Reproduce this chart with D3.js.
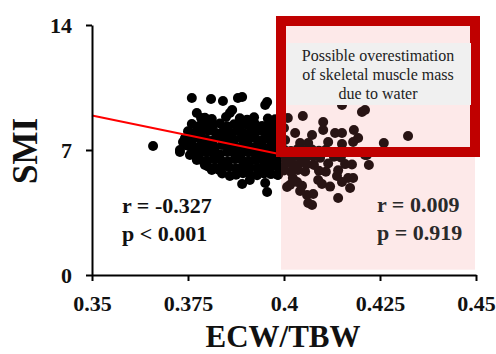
<!DOCTYPE html>
<html>
<head>
<meta charset="utf-8">
<script src="https://cdn.jsdelivr.net/npm/d3@7"></script>
<style>
  body { margin: 0; background: #fff; }
  svg text { font-family: "Liberation Serif", "Times New Roman", serif; }
</style>
</head>
<body>
<div id="chart"></div>
<script>
// axis ticks
const xTicks = [0.35, 0.375, 0.4, 0.425, 0.45];
const xTickLabels = ['0.35', '0.375', '0.4', '0.425', '0.45'];
const yTicks = [0, 7, 14];

// patients: [ECW/TBW, SMI]
const patients = [
  [0.3659, 7.22], [0.3729, 6.89], [0.3729, 7.00], [0.3737, 7.45],
  [0.3760, 9.91], [0.3810, 9.86], [0.3841, 9.74], [0.3880, 9.91], [0.3891, 9.97],
  [0.3773, 9.07], [0.3784, 8.79], [0.3859, 9.07], [0.3865, 9.24], [0.3956, 9.69], [0.3951, 9.52],
  // row ~8.8
  [0.3794, 8.80], [0.3812, 8.74], [0.3849, 8.85], [0.3885, 8.78], [0.3904, 8.70], [0.3922, 8.83], [0.3958, 8.76], [0.3977, 8.72],
  // row ~8.4
  [0.3760, 8.45], [0.3779, 8.35], [0.3797, 8.42], [0.3815, 8.38], [0.3833, 8.48], [0.3852, 8.33], [0.3870, 8.44],
  [0.3888, 8.36], [0.3906, 8.41], [0.3924, 8.47], [0.3943, 8.34], [0.3961, 8.43], [0.3979, 8.39],
  // row ~8.0
  [0.3750, 8.05], [0.3768, 7.96], [0.3786, 8.02], [0.3805, 8.08], [0.3823, 7.95], [0.3841, 8.03], [0.3859, 7.99],
  [0.3878, 8.06], [0.3896, 7.94], [0.3914, 8.01], [0.3932, 8.07], [0.3951, 7.97], [0.3969, 8.04], [0.3987, 7.98],
  // row ~7.6
  [0.3742, 7.65], [0.3760, 7.58], [0.3779, 7.66], [0.3797, 7.60], [0.3815, 7.55], [0.3833, 7.68], [0.3852, 7.61],
  [0.3870, 7.57], [0.3888, 7.64], [0.3906, 7.59], [0.3924, 7.67], [0.3943, 7.56], [0.3961, 7.63], [0.3979, 7.60],
  // row ~7.2
  [0.3747, 7.25], [0.3766, 7.18], [0.3784, 7.27], [0.3802, 7.20], [0.3820, 7.15], [0.3839, 7.28], [0.3857, 7.22],
  [0.3875, 7.16], [0.3893, 7.26], [0.3911, 7.19], [0.3930, 7.24], [0.3948, 7.14], [0.3966, 7.23], [0.3984, 7.21],
  // row ~6.8
  [0.3760, 6.86], [0.3779, 6.79], [0.3797, 6.88], [0.3815, 6.81], [0.3833, 6.76], [0.3852, 6.89], [0.3870, 6.83],
  [0.3888, 6.78], [0.3906, 6.87], [0.3924, 6.80], [0.3943, 6.85], [0.3961, 6.77], [0.3979, 6.84],
  // row ~6.4
  [0.3781, 6.47], [0.3799, 6.40], [0.3818, 6.48], [0.3836, 6.42], [0.3854, 6.37], [0.3872, 6.49], [0.3891, 6.43],
  [0.3909, 6.38], [0.3927, 6.46], [0.3945, 6.41], [0.3964, 6.45], [0.3982, 6.39],
  // row ~6.0
  [0.3802, 6.08], [0.3820, 6.01], [0.3839, 6.09], [0.3857, 6.03], [0.3875, 5.98], [0.3893, 6.10], [0.3911, 6.04],
  [0.3930, 5.99], [0.3948, 6.07], [0.3966, 6.02], [0.3984, 6.06],
  // row ~5.7
  [0.3839, 5.68], [0.3875, 5.62], [0.3893, 5.70], [0.3911, 5.64], [0.3930, 5.59], [0.3948, 5.69], [0.3966, 5.65], [0.3984, 5.61],
  // lower left edge
  [0.3755, 6.72], [0.3773, 6.44], [0.3794, 6.16], [0.3812, 5.88], [0.3831, 5.88],
  [0.3891, 5.10], [0.3951, 5.15], [0.3956, 4.65], [0.3984, 5.60], [0.3911, 5.32], [0.3859, 5.54],
  // ECW/TBW >= 0.4
  [0.4010, 8.79], [0.4049, 8.90], [0.4102, 8.57], [0.4102, 8.12], [0.4133, 7.95], [0.4151, 7.95], [0.4182, 8.12],
  [0.4193, 7.67], [0.4203, 9.13], [0.4211, 9.24], [0.4029, 7.95], [0.4073, 7.84], [0.4115, 7.45], [0.4151, 7.34],
  [0.4180, 7.45], [0.4042, 7.39], [0.4063, 7.39], [0.4151, 9.52], [0.4260, 7.39], [0.4323, 7.78], [0.4216, 6.72],
  [0.4221, 6.16], [0.4000, 8.23], [0.4003, 7.56],
  [0.4000, 7.02], [0.4018, 6.95], [0.4036, 7.05], [0.4055, 6.98], [0.4073, 7.03], [0.4091, 6.96], [0.4109, 7.01],
  [0.4003, 6.63], [0.4021, 6.57], [0.4039, 6.66], [0.4057, 6.59], [0.4076, 6.64], [0.4094, 6.56], [0.4130, 6.62], [0.4148, 6.58],
  [0.4005, 6.25], [0.4023, 6.18], [0.4042, 6.27], [0.4060, 6.20], [0.4078, 6.16], [0.4115, 6.24], [0.4159, 6.21], [0.4177, 6.19],
  [0.4000, 5.85], [0.4018, 5.79], [0.4036, 5.88], [0.4055, 5.80], [0.4091, 5.84], [0.4109, 5.78], [0.4141, 5.86],
  [0.4034, 5.21], [0.4089, 5.32], [0.4138, 5.54], [0.4151, 5.21], [0.4167, 5.43], [0.4180, 5.43], [0.4172, 4.87],
  [0.4060, 4.48], [0.4076, 4.54], [0.4063, 4.03], [0.4073, 3.92], [0.4141, 4.31], [0.4008, 4.93], [0.4023, 5.43],
  [0.4211, 6.72], [0.4016, 5.05], [0.4047, 5.00], [0.4099, 5.10], [0.4120, 4.95], [0.4042, 4.70]
];

// regression line for the whole group (endpoints)
const fitLine = [[0.35, 8.93], [0.40, 6.72]];

// high ECW/TBW zone
const zone = { x0: 0.4, x1: 0.45, y0: 0.3, y1: 14 };

const statsLeft = ['r = -0.327', 'p < 0.001'];
const statsRight = ['r = 0.009', 'p = 0.919'];
const noteLines = ['Possible overestimation', 'of skeletal muscle mass', 'due to water'];

const width = 496, height = 354;
const serif = '"Liberation Serif", "Times New Roman", serif';

const x = d3.scaleLinear().domain([0.35, 0.45]).range([92, 476]);
const y = d3.scaleLinear().domain([0, 14]).range([275, 25]);

const svg = d3.select('#chart').append('svg')
  .attr('width', width)
  .attr('height', height)
  .style('font-family', serif);

// points
svg.append('g').selectAll('circle')
  .data(patients)
  .enter().append('circle')
  .attr('cx', d => x(d[0]))
  .attr('cy', d => y(d[1]))
  .attr('r', 5)
  .attr('fill', '#000');

// translucent pink zone over the points
svg.append('rect')
  .attr('x', x(zone.x0) - 3)
  .attr('y', y(zone.y1))
  .attr('width', x(zone.x1) - x(zone.x0) + 2)
  .attr('height', y(zone.y0) - y(zone.y1))
  .attr('fill', 'rgb(242,121,121)')
  .attr('fill-opacity', 0.165);

// red fit line
svg.append('line')
  .attr('x1', x(fitLine[0][0])).attr('y1', y(fitLine[0][1]))
  .attr('x2', x(fitLine[1][0])).attr('y2', y(fitLine[1][1]))
  .attr('stroke', '#ff0000')
  .attr('stroke-width', 2);

// axes
const xAxis = d3.axisBottom(x)
  .tickValues(xTicks)
  .tickFormat((d, i) => xTickLabels[i])
  .tickSize(6)
  .tickSizeOuter(0)
  .tickPadding(14);

const yAxis = d3.axisLeft(y)
  .tickValues(yTicks)
  .tickSize(6)
  .tickSizeOuter(0)
  .tickPadding(14);

const gx = svg.append('g').attr('transform', 'translate(0,275)').call(xAxis);
const gy = svg.append('g').attr('transform', 'translate(92,0)').call(yAxis);

[gx, gy].forEach(g => {
  g.attr('font-family', null);
  g.select('.domain').attr('stroke', '#000').attr('stroke-width', 2);
  g.selectAll('.tick line').attr('stroke', '#000').attr('stroke-width', 2);
  g.selectAll('.tick text')
    .attr('fill', '#111')
    .style('font-family', serif)
    .style('font-size', '22px')
    .style('font-weight', 'bold');
});

// axis titles
svg.append('text')
  .attr('x', 283)
  .attr('y', 347)
  .attr('text-anchor', 'middle')
  .style('font-size', '31px')
  .style('font-weight', 'bold')
  .attr('fill', '#111')
  .text('ECW/TBW');

svg.append('text')
  .attr('transform', 'translate(37,151) rotate(-90)')
  .attr('text-anchor', 'middle')
  .style('font-size', '35px')
  .style('font-weight', 'bold')
  .attr('fill', '#111')
  .text('SMI');

// correlation labels
svg.append('g').selectAll('text')
  .data(statsLeft)
  .enter().append('text')
  .attr('x', 122)
  .attr('y', (d, i) => 213 + i * 28)
  .style('font-size', '22px')
  .style('font-weight', 'bold')
  .attr('fill', '#111')
  .text(d => d);

svg.append('g').selectAll('text')
  .data(statsRight)
  .enter().append('text')
  .attr('x', 377)
  .attr('y', (d, i) => 212 + i * 28)
  .style('font-size', '22px')
  .style('font-weight', 'bold')
  .attr('fill', '#2a2a2a')
  .text(d => d);

// annotation box
svg.append('rect')
  .attr('x', 281)
  .attr('y', 21)
  .attr('width', 194)
  .attr('height', 131)
  .attr('fill', 'none')
  .attr('stroke', '#c00000')
  .attr('stroke-width', 10);

svg.append('rect')
  .attr('x', 286)
  .attr('y', 43)
  .attr('width', 185)
  .attr('height', 62)
  .attr('fill', '#f0f0f0');

svg.append('g').selectAll('text')
  .data(noteLines)
  .enter().append('text')
  .attr('x', 378)
  .attr('y', (d, i) => 61 + i * 19)
  .attr('text-anchor', 'middle')
  .style('font-family', serif)
  .style('font-size', '16px')
  .attr('fill', '#222')
  .text(d => d);
</script>
</body>
</html>
